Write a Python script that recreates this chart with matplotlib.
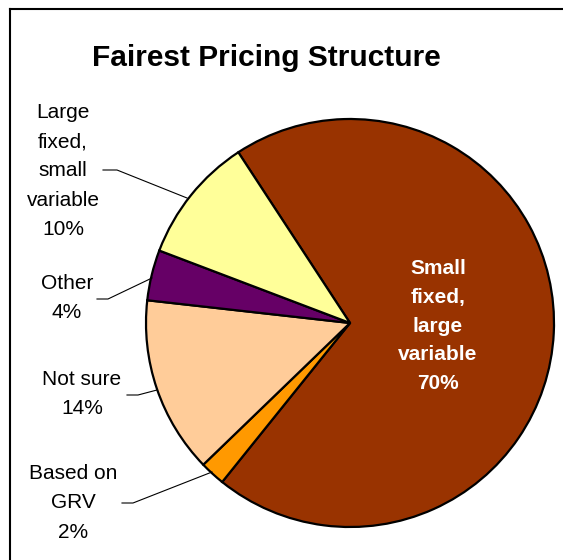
import matplotlib.pyplot as plt
from matplotlib.lines import Line2D

plt.rcParams['font.family'] = ['Liberation Sans', 'DejaVu Sans']

# данные диаграммы
labels = ['Small\nfixed,\nlarge\nvariable', 'Based on\nGRV', 'Not sure', 'Other',
          'Large\nfixed,\nsmall\nvariable']
values = [70, 2, 14, 4, 10]
colors = ['#993300', '#FF9900', '#FFCC99', '#660066', '#FFFF99']

W, H = 563, 560


def py(y):
    # пиксели сверху -> координаты снизу
    return H - y


fig = plt.figure(figsize=(W / 100, H / 100), dpi=100)
ax = fig.add_axes([0, 0, 1, 1])

ax.pie(values, colors=colors, startangle=123.2, counterclock=False,
       radius=204, center=(350, py(323)),
       wedgeprops=dict(edgecolor='black', linewidth=1.6))

ax.set_xlim(0, W)
ax.set_ylim(0, H)
ax.set_aspect('equal')
ax.axis('off')

ax.text(266, py(58), 'Fairest Pricing Structure', ha='center', va='center',
        fontsize=21.5, fontweight='bold')

# подпись внутри большого сектора
ax.text(438, py(326), f'{labels[0]}\n{values[0]}%', ha='center', va='center',
        fontsize=15, fontweight='bold', color='white', linespacing=1.65)

# внешние подписи: (x, y центра текста, линия-выноска)
outside = {
    1: ((73, 503), [(122, 503), (133, 503), (212, 472)]),
    2: ((82, 394), [(127, 395), (138, 395), (157, 390)]),
    3: ((67, 298), [(97, 299), (108, 299), (152, 278)]),
    4: ((63, 171), [(103, 170), (117, 170), (187, 198)]),
}
for i, ((tx, ty), pts) in outside.items():
    ax.text(tx, py(ty), f'{labels[i]}\n{values[i]}%', ha='center', va='center',
            fontsize=15, linespacing=1.67)
    ax.plot([p[0] for p in pts], [py(p[1]) for p in pts], color='black', lw=0.8)

# рамка области диаграммы
fig.add_artist(Line2D([10 / W, 10 / W], [0, py(9) / H], color='black', lw=1.5,
                      transform=fig.transFigure))
fig.add_artist(Line2D([10 / W, 1], [py(9) / H, py(9) / H], color='black', lw=1.5,
                      transform=fig.transFigure))

fig.savefig('out.png', dpi=100)
